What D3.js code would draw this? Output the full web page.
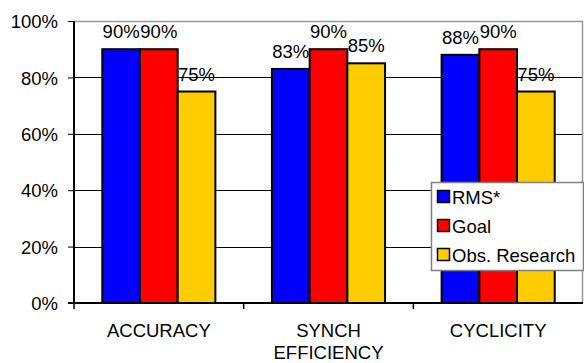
<!DOCTYPE html>
<html lang="en">
<head>
    <meta charset="UTF-8">
    <title>Measures vs Goal</title>
    <script src="https://d3js.org/d3.v7.min.js"></script>
    <style>
        body { margin: 0; background: #fff; }
        text { font-family: 'Liberation Sans', Arial, sans-serif; fill: #000; }
        .bar { stroke: #000; stroke-width: 2; }
        .grid line { stroke: #000; stroke-width: 1; shape-rendering: crispEdges; }
    </style>
</head>
<body>
    <svg width="584" height="363"></svg>

    <script>
        const categories = [["ACCURACY"], ["SYNCH", "EFFICIENCY"], ["CYCLICITY"]];
        const seriesNames = ["RMS*", "Goal", "Obs. Research"];
        const seriesColors = ["#0000ff", "#ff0000", "#ffcc00"];
        const rms = [90, 83, 88];
        const goal = [90, 90, 90];
        const obsResearch = [75, 85, 75];
        const yTicks = [0, 20, 40, 60, 80, 100];

        const series = [rms, goal, obsResearch];
        const fs = "18.5px";

        const svg = d3.select("svg"),
            margin = {top: 21, right: 1, bottom: 60, left: 74},
            width = +svg.attr("width") - margin.left - margin.right,
            height = +svg.attr("height") - margin.top - margin.bottom,
            g = svg.append("g").attr("transform", "translate(" + margin.left + "," + margin.top + ")");

        const x0 = d3.scaleBand()
            .domain(d3.range(categories.length))
            .range([0, width])
            .paddingInner(0)
            .paddingOuter(0);
        // 3 bars + gap of 1.5 bar width per category
        const barW = x0.bandwidth() / 4.5;
        const x1 = d3.scaleBand()
            .domain(d3.range(series.length))
            .range([barW * 0.75, barW * 3.75]);

        const y = d3.scaleLinear().domain([0, 100]).range([height, 0]);

        // gridlines
        g.append("g")
            .attr("class", "grid")
            .selectAll("line")
            .data(yTicks.filter(d => d > 0 && d < 100))
            .enter().append("line")
            .attr("x1", 0)
            .attr("x2", width)
            .attr("y1", d => Math.round(y(d)) + 0.5)
            .attr("y2", d => Math.round(y(d)) + 0.5);

        // plot border top/right
        g.append("path")
            .attr("d", "M0," + (y(100) + 0.5) + "H" + (width - 0.5) + "V" + height)
            .attr("fill", "none")
            .attr("stroke", "#999")
            .attr("stroke-width", 1.5);

        // bars
        series.forEach(function (vals, si) {
            g.append("g")
                .selectAll("rect")
                .data(vals)
                .enter().append("rect")
                .attr("class", "bar")
                .attr("x", (d, i) => x0(i) + x1(si))
                .attr("y", d => y(d))
                .attr("width", x1.bandwidth())
                .attr("height", d => y(0) - y(d))
                .attr("fill", seriesColors[si]);

            g.append("g")
                .selectAll("text")
                .data(vals)
                .enter().append("text")
                .attr("x", (d, i) => x0(i) + x1(si) + x1.bandwidth() / 2)
                .attr("y", d => y(d) - 11)
                .attr("text-anchor", "middle")
                .style("font-size", fs)
                .text(d => d + "%");
        });

        // y axis
        const yAxis = g.append("g")
            .call(d3.axisLeft(y).tickValues(yTicks).tickSize(6).tickFormat(d => d + "%"));
        yAxis.select(".domain").attr("stroke-width", 2).attr("d", "M0," + y(0) + "V" + y(100));
        yAxis.selectAll(".tick line").attr("stroke-width", 1);
        yAxis.selectAll(".tick text")
            .attr("x", -16)
            .attr("dy", "0.36em")
            .style("font-size", fs);

        // x axis
        const xAxis = g.append("g")
            .attr("transform", "translate(0," + height + ")");
        xAxis.append("line")
            .attr("x1", -6).attr("x2", width)
            .attr("stroke", "#000").attr("stroke-width", 2);
        xAxis.selectAll(".xtick")
            .data(d3.range(categories.length))
            .enter().append("line")
            .attr("x1", d => x0(d)).attr("x2", d => x0(d))
            .attr("y1", 0).attr("y2", 6)
            .attr("stroke", "#000").attr("stroke-width", 1.5);
        const xLabels = xAxis.selectAll(".xlabel")
            .data(categories)
            .enter().append("text")
            .attr("text-anchor", "middle")
            .attr("transform", (d, i) => "translate(" + (x0(i) + x0.bandwidth() / 2) + ",34)")
            .style("font-size", fs);
        xLabels.selectAll("tspan")
            .data(d => d)
            .enter().append("tspan")
            .attr("x", 0)
            .attr("dy", (d, i) => i === 0 ? 0 : 21.5)
            .text(d => d);

        // legend
        const legend = svg.append("g").attr("transform", "translate(431,182)");
        legend.append("rect")
            .attr("x", 0.5).attr("y", 0.5)
            .attr("width", 152).attr("height", 88)
            .attr("fill", "#fff")
            .attr("stroke", "#808080")
            .attr("stroke-width", 1.5);
        const items = legend.selectAll(".item")
            .data(seriesNames)
            .enter().append("g")
            .attr("transform", (d, i) => "translate(6," + (15 + i * 29) + ")");
        items.append("rect")
            .attr("x", 0.5).attr("y", -6.5)
            .attr("width", 12).attr("height", 12)
            .attr("fill", (d, i) => seriesColors[i])
            .attr("stroke", "#000")
            .attr("stroke-width", 1.5);
        items.append("text")
            .attr("x", 15)
            .attr("dy", "0.36em")
            .style("font-size", fs)
            .text(d => d);
    </script>
</body>
</html>
